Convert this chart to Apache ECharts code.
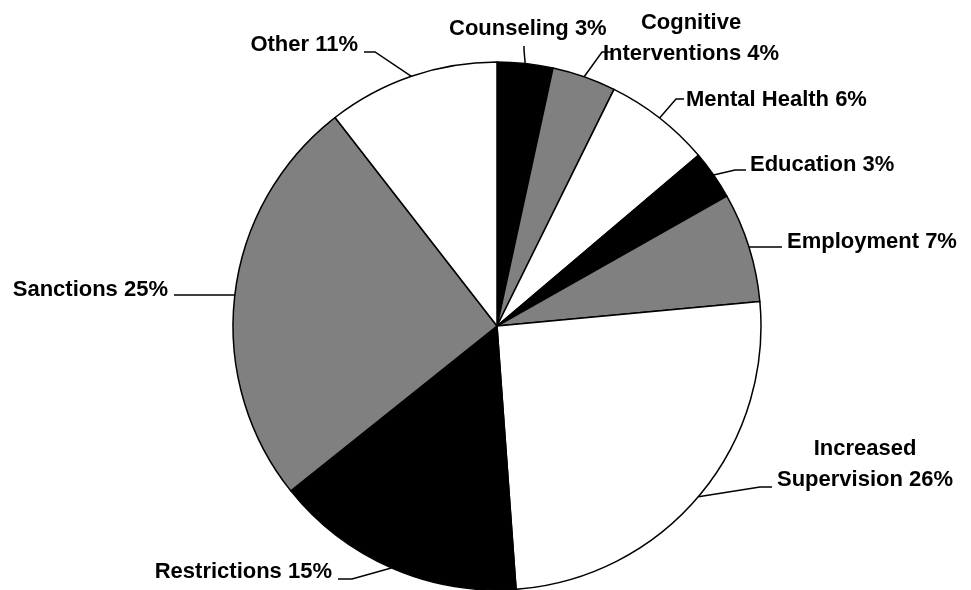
<!DOCTYPE html>
<html>
<head>
<meta charset="utf-8">
<script src="https://cdn.jsdelivr.net/npm/echarts@6/dist/echarts.min.js"></script>
<style>
  html, body { margin: 0; padding: 0; background: #fff; }
  #chart { width: 971px; height: 590px; }
</style>
</head>
<body>
<div id="chart"></div>
<script>
// categories, clockwise from 12 o'clock
const categories = ['Counseling', 'Cognitive\nInterventions', 'Mental Health', 'Education', 'Employment',
  'Increased\nSupervision', 'Restrictions', 'Sanctions', 'Other'];
// slice sizes
const values = [3.4, 3.9, 6.5, 3.0, 6.7, 25.3, 15.4, 25.2, 10.5];
// percentages as printed on the labels
const pctLabels = [3, 4, 6, 3, 7, 26, 15, 25, 11];
const fills = ['#000000', '#808080', '#ffffff', '#000000', '#808080', '#ffffff', '#000000', '#808080', '#ffffff'];

// label placement: anchor point, alignment, extra leader points after the rim point
const labelLayouts = [
  { x: 449, y: 29, align: 'left', line: [[524, 50], [524, 46]] },
  { x: 691, y: 38, align: 'center', line: [[602, 52], [612, 52]] },
  { x: 686, y: 100, align: 'left', line: [[676, 99], [684, 99]] },
  { x: 750, y: 165, align: 'left', line: [[735, 170], [746, 170]] },
  { x: 787, y: 242, align: 'left', line: [[770, 247], [782, 247]] },
  { x: 865, y: 464, align: 'center', line: [[760, 487], [772, 487]] },
  { x: 332, y: 572, align: 'right', line: [[352, 579], [338, 579]] },
  { x: 168, y: 290, align: 'right', line: [[200, 295], [174, 295]] },
  { x: 358, y: 45, align: 'right', line: [[375, 52], [364, 52]] }
];

const chart = echarts.init(document.getElementById('chart'));

const data = categories.map((name, i) => ({
  name: name,
  value: values[i],
  itemStyle: { color: fills[i] }
}));

chart.setOption({
  animation: false,
  series: [{
    type: 'pie',
    center: [497, 326],
    radius: 264,
    startAngle: 90,
    clockwise: true,
    avoidLabelOverlap: false,
    data: data,
    itemStyle: { borderColor: '#000', borderWidth: 1.5 },
    label: {
      show: true,
      position: 'outside',
      fontFamily: 'Liberation Sans',
      fontWeight: 'bold',
      fontSize: 22,
      lineHeight: 31,
      color: '#000',
      formatter: p => p.name + ' ' + pctLabels[p.dataIndex] + '%'
    },
    labelLine: {
      show: true,
      length: 10,
      length2: 10,
      lineStyle: { color: '#000', width: 1.5 }
    },
    emphasis: { disabled: true },
    labelLayout: function (params) {
      const L = labelLayouts[params.dataIndex];
      const start = params.labelLinePoints ? params.labelLinePoints[0] : L.line[0];
      return {
        x: L.x,
        y: L.y,
        align: L.align,
        verticalAlign: 'middle',
        labelLinePoints: [start, L.line[0], L.line[1]]
      };
    }
  }]
});
</script>
</body>
</html>
